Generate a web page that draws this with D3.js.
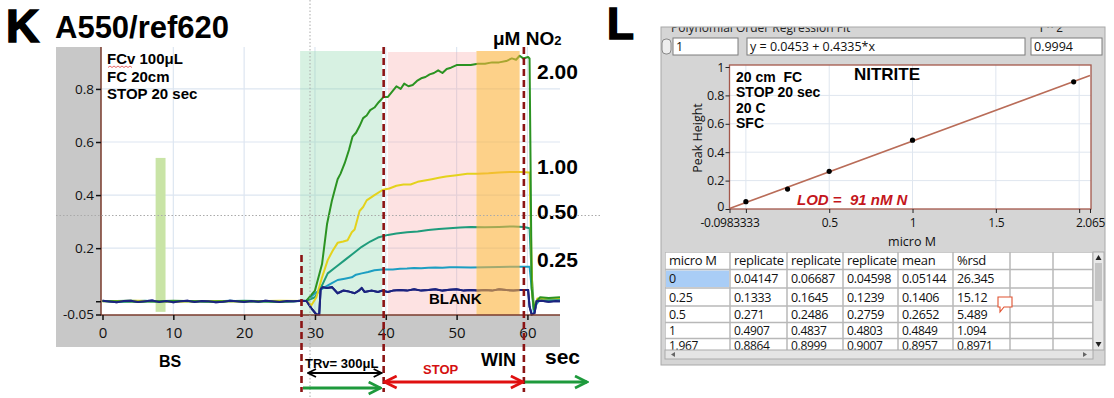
<!DOCTYPE html>
<html>
<head>
<meta charset="utf-8">
<script src="https://cdn.jsdelivr.net/npm/d3@7"></script>
<style>
  html, body { margin: 0; padding: 0; background: #fff; }
  svg { display: block; font-family: "Liberation Sans", Arial, sans-serif; }
</style>
</head>
<body>
<div id="chart"></div>
<script>
// ---- panel K : kinetic traces (time in sec, A550/ref620) ----
const blankTrace = [[0,0.002],[1,-0.001],[2,-0.004],[3,0.001],[4,0.002],[5,-0.003],[6,0],[7,0.003],[8,-0.003],[9,0.001],[10,-0.004],[11,0],[12,0.002],[13,-0.003],[14,0.001],[15,0],[16,-0.004],[17,-0.002],[18,0.002],[19,0],[20,-0.003],[21,0.001],[22,-0.002],[23,0.002],[24,0],[25,-0.003],[26,0.001],[27,0],[28,0.002],[28.8,0.001],[29.5,-0.027],[30.2,-0.05],[30.6,-0.05],[30.8,0.045],[31.1,0.053],[31.7,0.05],[32.4,0.053],[33.2,0.03],[34,0.04],[34.6,0.038],[35.6,0.03],[36.2,0.04],[36.6,0.05],[37,0.035],[38,0.04],[38.9,0.035],[39.5,0.04],[40.3,0.035],[41,0.04],[42,0.042],[43,0.04],[44,0.045],[45,0.04],[46,0.042],[47,0.045],[48,0.04],[49,0.043],[50,0.045],[51,0.04],[52,0.042],[53,0.04],[54,0.042],[55,0.04],[56,0.045],[57,0.042],[58,0.04],[59,0.042],[60.1,0.042],[60.3,-0.02],[60.6,-0.05],[61,-0.045],[61.3,0],[62,0.002],[63,-0.002],[64,0.001],[64.6,0]];
const trace025 = [[0,0.001],[3,-0.002],[6,0.002],[9,-0.003],[12,0.001],[15,-0.002],[18,0.002],[21,-0.002],[24,0.001],[27,0],[28.8,0.002],[30,0.03],[31.4,0.053],[32.2,0.065],[33.2,0.08],[34.2,0.085],[35.2,0.09],[35.8,0.1],[36.6,0.105],[37.5,0.11],[38.4,0.117],[39.5,0.12],[41,0.12],[42,0.122],[43,0.123],[44,0.125],[45,0.124],[46,0.126],[47,0.127],[48,0.126],[49,0.128],[50,0.128],[52,0.127],[54,0.128],[56,0.129],[58,0.13],[60.3,0.13],[60.6,0.05],[60.9,-0.04],[61.3,-0.01],[61.8,0.005],[63,0.003],[64.6,0.004]];
const trace050 = [[0,0],[4,0.002],[8,-0.002],[12,0.001],[16,-0.001],[20,0.002],[24,-0.001],[28.8,0.002],[30,0.015],[31,0.06],[31.8,0.105],[33,0.13],[34.2,0.155],[35.4,0.18],[36.6,0.205],[37.8,0.225],[38.9,0.24],[40.3,0.25],[41.5,0.255],[43,0.26],[44.5,0.263],[46,0.268],[47.5,0.272],[49,0.275],[50.5,0.278],[52,0.28],[54,0.279],[56,0.28],[58,0.282],[59.5,0.28],[60.3,0.275],[60.6,0.1],[60.9,-0.02],[61.3,0],[62,0.005],[64.6,0.004]];
const trace100 = [[0,0],[5,0.002],[10,-0.002],[15,0.001],[20,-0.001],[25,0.002],[28.8,0.001],[29.5,-0.015],[30.2,0.015],[31,0.09],[31.8,0.155],[32.5,0.19],[33.2,0.22],[34,0.225],[34.6,0.23],[35.2,0.26],[35.6,0.27],[36,0.31],[36.3,0.34],[36.8,0.355],[37.3,0.38],[38.4,0.4],[39.6,0.42],[40.5,0.425],[41.5,0.435],[42.5,0.44],[43.5,0.44],[44.5,0.45],[45.5,0.455],[46.5,0.46],[47.5,0.465],[48.5,0.47],[50,0.475],[51.5,0.48],[53,0.48],[54.5,0.482],[56,0.485],[57.5,0.487],[59,0.487],[60.3,0.485],[60.5,0.25],[60.7,0.02],[61,-0.03],[61.4,0.01],[62,0.01],[64.6,0.012]];
const trace200 = [[0,0.001],[5,-0.002],[10,0.002],[15,-0.001],[20,0.001],[25,-0.002],[28.8,0.002],[30,0.04],[31,0.14],[31.7,0.29],[32.4,0.38],[32.8,0.42],[33.2,0.46],[33.6,0.48],[34.2,0.52],[34.8,0.57],[35.3,0.62],[35.8,0.635],[36.3,0.66],[36.8,0.69],[37.3,0.7],[37.8,0.72],[38.4,0.73],[39,0.75],[39.7,0.77],[40.3,0.77],[40.9,0.79],[41.5,0.81],[42.1,0.8],[42.6,0.82],[43.2,0.81],[43.8,0.815],[44.4,0.83],[45,0.84],[45.6,0.845],[46.2,0.855],[46.8,0.86],[47.4,0.87],[48,0.86],[48.6,0.875],[49.2,0.88],[50,0.89],[51,0.89],[52,0.89],[53,0.895],[54,0.895],[55,0.9],[56,0.9],[57,0.905],[57.8,0.915],[58.4,0.91],[58.9,0.925],[59.4,0.915],[60.1,0.92],[60.3,0.915],[60.45,0.5],[60.6,0.05],[60.9,-0.03],[61.3,0],[61.8,0.015],[63,0.012],[64.6,0.015]];

const traceLabels = ['2.00', '1.00', '0.50', '0.25'];
const xTicksK = [0, 10, 20, 30, 40, 50, 60];
const yTicksK = [-0.05, 0, 0.2, 0.4, 0.6, 0.8];
// time windows (sec): BS bar, transport, stop, detection window, markers
const bsWindow = [7.5, 8.9, 0.54];
const trWindow = [27.9, 39.5];
const stopWindow = [40.3, 52.8];
const winWindow = [52.8, 58.9];
const markerTimes = [28.1, 39.7, 59.5];

// ---- panel L : calibration ----
const concL = [0, 0.25, 0.5, 1, 1.967];
const rep1 = [0.04147, 0.1333, 0.271, 0.4907, 0.8864];
const rep2 = [0.06687, 0.1645, 0.2486, 0.4837, 0.8999];
const rep3 = [0.04598, 0.1239, 0.2759, 0.4803, 0.9007];
const meanL = [0.05144, 0.1406, 0.2652, 0.4849, 0.8957];
const rsdL = [26.345, 15.12, 5.489, 1.094, 0.8971];
const fitCoef = [0.0453, 0.4335];
const xTicksL = [-0.0983333, 0, 0.5, 1, 1.5, 2, 2.065];
const yTicksL = [0, 0.2, 0.4, 0.6, 0.8, 1];
const tableHeader = ['micro M', 'replicate #1', 'replicate #2', 'replicate #3', 'mean', '%rsd', '', ''];

const W = 1114, H = 398;
const svg = d3.select('#chart').append('svg').attr('width', W).attr('height', H);
svg.append('rect').attr('width', W).attr('height', H).attr('fill', '#fff');
const defs = svg.append('defs');

// =========================== K ===========================
const xK = d3.scaleLinear().domain([0, 64.6]).range([102.5, 560]);
const yK = d3.scaleLinear().domain([-0.05, 0.958]).range([314.5, 47]);
const plotK = {l: 101, r: 560, t: 47, b: 315};

// grey frame of the graph control
svg.append('rect').attr('x', 56).attr('y', 47).attr('width', plotK.l - 56).attr('height', 300).attr('fill', '#c8c8c8');
svg.append('rect').attr('x', 56).attr('y', plotK.b).attr('width', plotK.r - 56).attr('height', 32).attr('fill', '#c8c8c8');

const gK = svg.append('g');
// grid
gK.selectAll('.gx').data(xTicksK.slice(1)).enter().append('line')
  .attr('x1', d => xK(d)).attr('x2', d => xK(d)).attr('y1', plotK.t).attr('y2', plotK.b)
  .attr('stroke', '#dde6f1').attr('stroke-width', 1.2);
gK.selectAll('.gy').data([0.2, 0.4, 0.6, 0.8]).enter().append('line')
  .attr('x1', plotK.l).attr('x2', plotK.r).attr('y1', d => yK(d)).attr('y2', d => yK(d))
  .attr('stroke', '#dde6f1').attr('stroke-width', 1.2);

const shade = (w, fill, op, top) => gK.append('rect')
  .attr('x', xK(w[0])).attr('width', xK(w[1]) - xK(w[0]))
  .attr('y', top).attr('height', plotK.b - top)
  .attr('fill', fill).attr('opacity', op);
// transport + stop windows behind the traces
shade(trWindow, '#86d6a6', 0.33, 51);
shade(stopWindow, '#f9a0a0', 0.3, 52);

// BS bar
gK.append('rect')
  .attr('x', xK(bsWindow[0])).attr('width', xK(bsWindow[1]) - xK(bsWindow[0]))
  .attr('y', yK(bsWindow[2])).attr('height', yK(-0.04) - yK(bsWindow[2]))
  .attr('fill', '#c9e4a6');

// traces
const line = d3.line().x(d => xK(d[0])).y(d => yK(d[1]));
const traces = [
  {data: blankTrace, color: '#1b237f'},
  {data: trace025, color: '#1c9ec2'},
  {data: trace050, color: '#1f9c7c'},
  {data: trace100, color: '#e4d21c'},
  {data: trace200, color: '#2b9322'}
];
gK.selectAll('.trace').data(traces).enter().append('path')
  .attr('d', d => line(d.data)).attr('fill', 'none')
  .attr('stroke', d => d.color).attr('stroke-width', 2).attr('stroke-linejoin', 'round');
gK.append('path').attr('d', line(blankTrace)).attr('fill', 'none')
  .attr('stroke', '#1b237f').attr('stroke-width', 2);

// detection window painted over the traces
shade(winWindow, '#fbb33a', 0.6, 51);

// frame
gK.append('path').attr('d', `M${plotK.l},${plotK.t}V${plotK.b}H${plotK.r}`)
  .attr('fill', 'none').attr('stroke', '#7a3b2c').attr('stroke-width', 1.5);

// axes
const axYK = gK.append('g').attr('transform', `translate(${plotK.l},0)`)
  .call(d3.axisLeft(yK).tickValues(yTicksK).tickSize(5).tickPadding(2)
    .tickFormat(d => d === 0 ? '' : (d === -0.05 ? '-0.05' : d.toFixed(1))));
axYK.select('.domain').remove();
axYK.selectAll('text').attr('font-size', 13.5).attr('fill', '#111').attr('font-family', '"Open Sans", sans-serif');
axYK.selectAll('line').attr('stroke', '#111').attr('stroke-width', 1.5);

const axXK = gK.append('g').attr('transform', `translate(0,${plotK.b})`)
  .call(d3.axisBottom(xK).tickValues(xTicksK).tickSize(5).tickPadding(7));
axXK.select('.domain').remove();
axXK.selectAll('text').attr('font-size', 15).attr('fill', '#111').attr('font-family', '"Open Sans", sans-serif');
axXK.selectAll('line').attr('stroke', '#111').attr('stroke-width', 1.5);

// cursor cross-hair (dotted)
svg.append('line').attr('x1', 310).attr('x2', 310).attr('y1', 0).attr('y2', H)
  .attr('stroke', '#aaa').attr('stroke-dasharray', '1.5,2');
svg.append('line').attr('x1', 56).attr('x2', 600).attr('y1', 215.5).attr('y2', 215.5)
  .attr('stroke', '#aaa').attr('stroke-dasharray', '1.5,2');

// dashed markers
svg.selectAll('.mk').data(markerTimes).enter().append('line')
  .attr('x1', d => xK(d)).attr('x2', d => xK(d))
  .attr('y1', (d, i) => i === 0 ? 255 : plotK.t).attr('y2', 392)
  .attr('stroke', '#8b1414').attr('stroke-width', 2.6).attr('stroke-dasharray', '7,4');

// labels
const txt = (x, y, s, size, opt = {}) => svg.append('text').attr('x', x).attr('y', y)
  .attr('font-size', size).attr('font-weight', opt.w || 'bold').attr('fill', opt.c || '#000')
  .attr('text-anchor', opt.a || 'start').attr('font-style', opt.i ? 'italic' : 'normal')
  .attr('font-family', opt.f || null).text(s);

txt(6, 42, 'K', 46).attr('stroke', '#000').attr('stroke-width', 1.6);
txt(55, 38, 'A550/ref620', 31);
txt(107, 64, 'FCv 100\u03BCL', 15);
txt(107, 82, 'FC 20cm', 15);
txt(107, 99, 'STOP 20 sec', 15);
svg.append('path').attr('d', 'M108,67.5 l2,-1.5 l2,1.5 l2,-1.5 l2,1.5 l2,-1.5 l2,1.5 l2,-1.5 l2,1.5 l2,-1.5 l2,1.5 l2,-1.5 l2,1.5')
  .attr('fill', 'none').attr('stroke', '#e04040').attr('stroke-width', 0.8);

const nTxt = txt(493, 45, '\u03BCM NO', 19);
nTxt.append('tspan').attr('font-size', 13).text('2');
const labelY = [79, 174, 219, 267];
traceLabels.forEach((s, i) => txt(537, labelY[i], s, 21));
txt(429, 304, 'BLANK', 15);
txt(159, 367, 'BS', 16);
txt(305, 368, 'TRv= 300\u03BCL', 13);
txt(423, 374, 'STOP', 13, {c: '#d41010'});
txt(481, 366, 'WIN', 18);
txt(545, 364, 'sec', 21);

// arrows under the time axis
const mkArrow = (id, color) => defs.append('marker').attr('id', id)
  .attr('viewBox', '0 0 10 10').attr('refX', 9).attr('refY', 5)
  .attr('markerWidth', 5).attr('markerHeight', 5).attr('orient', 'auto-start-reverse')
  .append('path').attr('d', 'M1,1 L9,5 L1,9').attr('fill', 'none').attr('stroke', color).attr('stroke-width', 1.8);
mkArrow('ab', '#000'); mkArrow('ag', '#1e9a3c'); mkArrow('ar', '#e01010');
const arrow = (x1, x2, y, color, id, both, sw) => svg.append('line')
  .attr('x1', x1).attr('x2', x2).attr('y1', y).attr('y2', y)
  .attr('stroke', color).attr('stroke-width', sw)
  .attr('marker-end', `url(#${id})`).attr('marker-start', both ? `url(#${id})` : null);
arrow(308, xK(markerTimes[1]) - 2, 373, '#000', 'ab', true, 2);
arrow(303, xK(markerTimes[1]) - 3, 388, '#1e9a3c', 'ag', false, 3);
arrow(xK(markerTimes[1]) + 1, xK(markerTimes[2]) - 1, 382, '#e01010', 'ar', true, 3);
arrow(xK(markerTimes[2]) + 1, 587, 382, '#1e9a3c', 'ag', false, 3);

// =========================== L ===========================
txt(607, 39, 'L', 44).attr('stroke', '#000').attr('stroke-width', 1.6);

const pnl = svg.append('g');
pnl.append('rect').attr('x', 661).attr('y', 27).attr('width', 444).attr('height', 338)
  .attr('fill', '#d5d5d5').attr('stroke', '#a8a8a8');
// clipped caption strip
defs.append('clipPath').attr('id', 'capclip').append('rect').attr('x', 661).attr('y', 27.5).attr('width', 444).attr('height', 10);
const cap = pnl.append('g').attr('clip-path', 'url(#capclip)');
cap.append('text').attr('x', 671).attr('y', 32).attr('font-size', 12).attr('fill', '#222')
  .attr('font-family', '"Open Sans", sans-serif').text('Polynomial Order Regression Fit');
cap.append('text').attr('x', 1040).attr('y', 32).attr('font-size', 12).attr('fill', '#222').text('r ^ 2');

// numeric boxes
const boxes = [[673, 65, '1'], [747, 278, 'y = 0.0453 + 0.4335*x'], [1031, 71, '0.9994']];
pnl.selectAll('.bx').data(boxes).enter().append('rect')
  .attr('x', d => d[0]).attr('y', 38).attr('width', d => d[1]).attr('height', 17)
  .attr('fill', '#fff').attr('stroke', '#7d7d7d');
pnl.selectAll('.bt').data(boxes).enter().append('text')
  .attr('x', d => d[0] + 3).attr('y', 51).attr('font-size', 12.5).attr('fill', '#111')
  .attr('font-family', '"Open Sans", sans-serif').text(d => d[2]);
pnl.append('rect').attr('x', 662).attr('y', 39).attr('width', 9).attr('height', 15).attr('rx', 4)
  .attr('fill', '#eee').attr('stroke', '#888');

// calibration plot
const xL = d3.scaleLinear().domain([-0.0983333, 2.065]).range([729.5, 1090]);
const yL = d3.scaleLinear().domain([0, 1]).range([209, 67]);
const plotL = {l: 729.5, r: 1091, t: 65, b: 209};
pnl.append('rect').attr('x', plotL.l).attr('y', plotL.t).attr('width', plotL.r - plotL.l)
  .attr('height', plotL.b - plotL.t).attr('fill', '#fff');
pnl.selectAll('.lgx').data([0, 0.5, 1, 1.5, 2]).enter().append('line')
  .attr('x1', d => xL(d)).attr('x2', d => xL(d)).attr('y1', plotL.t).attr('y2', plotL.b)
  .attr('stroke', '#dfe6ef');
pnl.selectAll('.lgy').data([0.2, 0.4, 0.6, 0.8]).enter().append('line')
  .attr('x1', plotL.l).attr('x2', plotL.r).attr('y1', d => yL(d)).attr('y2', d => yL(d))
  .attr('stroke', '#dfe6ef');

const fitX = xL.domain();
pnl.append('line')
  .attr('x1', xL(fitX[0])).attr('y1', yL(fitCoef[0] + fitCoef[1] * fitX[0]))
  .attr('x2', xL(fitX[1])).attr('y2', yL(fitCoef[0] + fitCoef[1] * fitX[1]))
  .attr('stroke', '#b96c58').attr('stroke-width', 1.6);
pnl.selectAll('.pt').data(concL).enter().append('circle')
  .attr('cx', d => xL(d)).attr('cy', (d, i) => yL(meanL[i])).attr('r', 2.6).attr('fill', '#000');

pnl.append('rect').attr('x', plotL.l).attr('y', plotL.t).attr('width', plotL.r - plotL.l)
  .attr('height', plotL.b - plotL.t).attr('fill', 'none').attr('stroke', '#a4574a').attr('stroke-width', 1.3);

const axYL = pnl.append('g').attr('transform', `translate(${plotL.l},0)`)
  .call(d3.axisLeft(yL).tickValues(yTicksL).tickSize(4).tickPadding(1).tickFormat(d => String(+d.toFixed(1))));
axYL.select('.domain').remove();
axYL.selectAll('text').attr('font-size', 12.5).attr('fill', '#111').attr('font-family', '"Open Sans", sans-serif');
axYL.selectAll('.tick').filter(d => d === 0).select('text').attr('dy', '0.15em');
axYL.selectAll('line').attr('stroke', '#222');
const axXL = pnl.append('g').attr('transform', `translate(0,${plotL.b})`)
  .call(d3.axisBottom(xL).tickValues(xTicksL).tickSize(4).tickPadding(5)
    .tickFormat(d => (d === 0 || d === 2) ? '' : String(d)));
axXL.select('.domain').remove();
axXL.selectAll('text').attr('font-size', 12).attr('fill', '#111').attr('font-family', '"Open Sans", sans-serif')
  .attr('letter-spacing', -0.3);
axXL.selectAll('line').attr('stroke', '#222');

pnl.append('text').attr('transform', 'translate(702,138) rotate(-90)').attr('text-anchor', 'middle')
  .attr('font-size', 12.5).attr('fill', '#111').attr('font-family', '"Open Sans", sans-serif').text('Peak Height');
pnl.append('text').attr('x', 912).attr('y', 246).attr('text-anchor', 'middle')
  .attr('font-size', 12.5).attr('fill', '#111').attr('font-family', '"Open Sans", sans-serif').text('micro M');

txt(736, 82, '20 cm\u00A0 FC', 14);
txt(736, 97, 'STOP 20 sec', 14);
txt(736, 113, '20 C', 14);
txt(736, 128, 'SFC', 14);
txt(887, 80, 'NITRITE', 17, {a: 'middle'});
txt(797, 205, 'LOD =\u00A0 91 nM N', 15, {c: '#c4161c', i: true});

// data table
const colX = [665, 730, 787, 843, 898, 953, 1010, 1053, 1093];
const rowY = [252, 269.5, 288, 306, 322.5, 338.5, 350];
const rows = [tableHeader].concat(concL.map((c, i) => [c, rep1[i], rep2[i], rep3[i], meanL[i], rsdL[i], '', '']));
const tbl = pnl.append('g');
tbl.append('rect').attr('x', colX[0]).attr('y', rowY[0]).attr('width', colX[8] - colX[0])
  .attr('height', rowY[6] - rowY[0]).attr('fill', '#fff');
tbl.append('rect').attr('x', colX[0] + 1).attr('y', rowY[1] + 1).attr('width', colX[1] - colX[0] - 2)
  .attr('height', rowY[2] - rowY[1] - 2).attr('fill', '#a9cdf6');
defs.append('clipPath').attr('id', 'tclip').append('rect').attr('x', colX[0]).attr('y', rowY[0])
  .attr('width', colX[8] - colX[0]).attr('height', rowY[6] - rowY[0]);
const tg = tbl.append('g').attr('clip-path', 'url(#tclip)');
rows.forEach((r, ri) => {
  r.forEach((v, ci) => {
    if (v === '') return;
    const t = tg.append('text').attr('x', colX[ci] + 4)
      .attr('y', (rowY[ri] + rowY[ri + 1]) / 2 + (ri === 5 ? 6 : 4.5))
      .attr('font-size', ri === 0 ? 13 : (ri >= 4 ? 12 : 12.5)).attr('fill', '#111')
      .attr('font-family', '"Open Sans", sans-serif').attr('letter-spacing', -0.3).text(String(v));
    // a LabVIEW cell shows only what fits
    let s = String(v);
    const maxW = colX[ci + 1] - colX[ci] - 5;
    while (t.node().getComputedTextLength() > maxW && s.length > 1) {
      s = s.slice(0, -1);
      t.text(s);
    }
  });
});
tg.selectAll('.vl').data(colX).enter().append('line')
  .attr('x1', d => d).attr('x2', d => d).attr('y1', rowY[0]).attr('y2', rowY[6])
  .attr('stroke', '#b8b8b8').attr('stroke-width', 1.5);
tg.selectAll('.hl').data(rowY.slice(0, 6)).enter().append('line')
  .attr('x1', colX[0]).attr('x2', colX[8]).attr('y1', d => d).attr('y2', d => d)
  .attr('stroke', '#b8b8b8').attr('stroke-width', 1.5);

// scrollbars
tbl.append('rect').attr('x', 1093).attr('y', 252).attr('width', 11).attr('height', 98).attr('fill', '#e8e8e8').attr('stroke', '#aaa');
tbl.append('rect').attr('x', 1095).attr('y', 263).attr('width', 7).attr('height', 38).attr('fill', '#c4c4c4');
tbl.append('path').attr('d', 'M1095.5,260 L1098.5,255 L1101.5,260Z').attr('fill', '#222');
tbl.append('path').attr('d', 'M1095.5,342 L1098.5,347 L1101.5,342Z').attr('fill', '#222');
tbl.append('rect').attr('x', 665).attr('y', 350).attr('width', 428).attr('height', 9).attr('fill', '#e4e4e4').attr('stroke', '#aaa');
tbl.append('path').attr('d', 'M671,354.5 L675,352 L675,357Z').attr('fill', '#666');
tbl.append('path').attr('d', 'M1087,354.5 L1083,352 L1083,357Z').attr('fill', '#666');

// comment bubble
tbl.append('path').attr('d', 'M998,297 H1012 V307 H1004 L1000,312 L1000,307 H998 Z')
  .attr('fill', '#fff').attr('stroke', '#e0502e').attr('stroke-width', 1.1);
</script>
</body>
</html>
